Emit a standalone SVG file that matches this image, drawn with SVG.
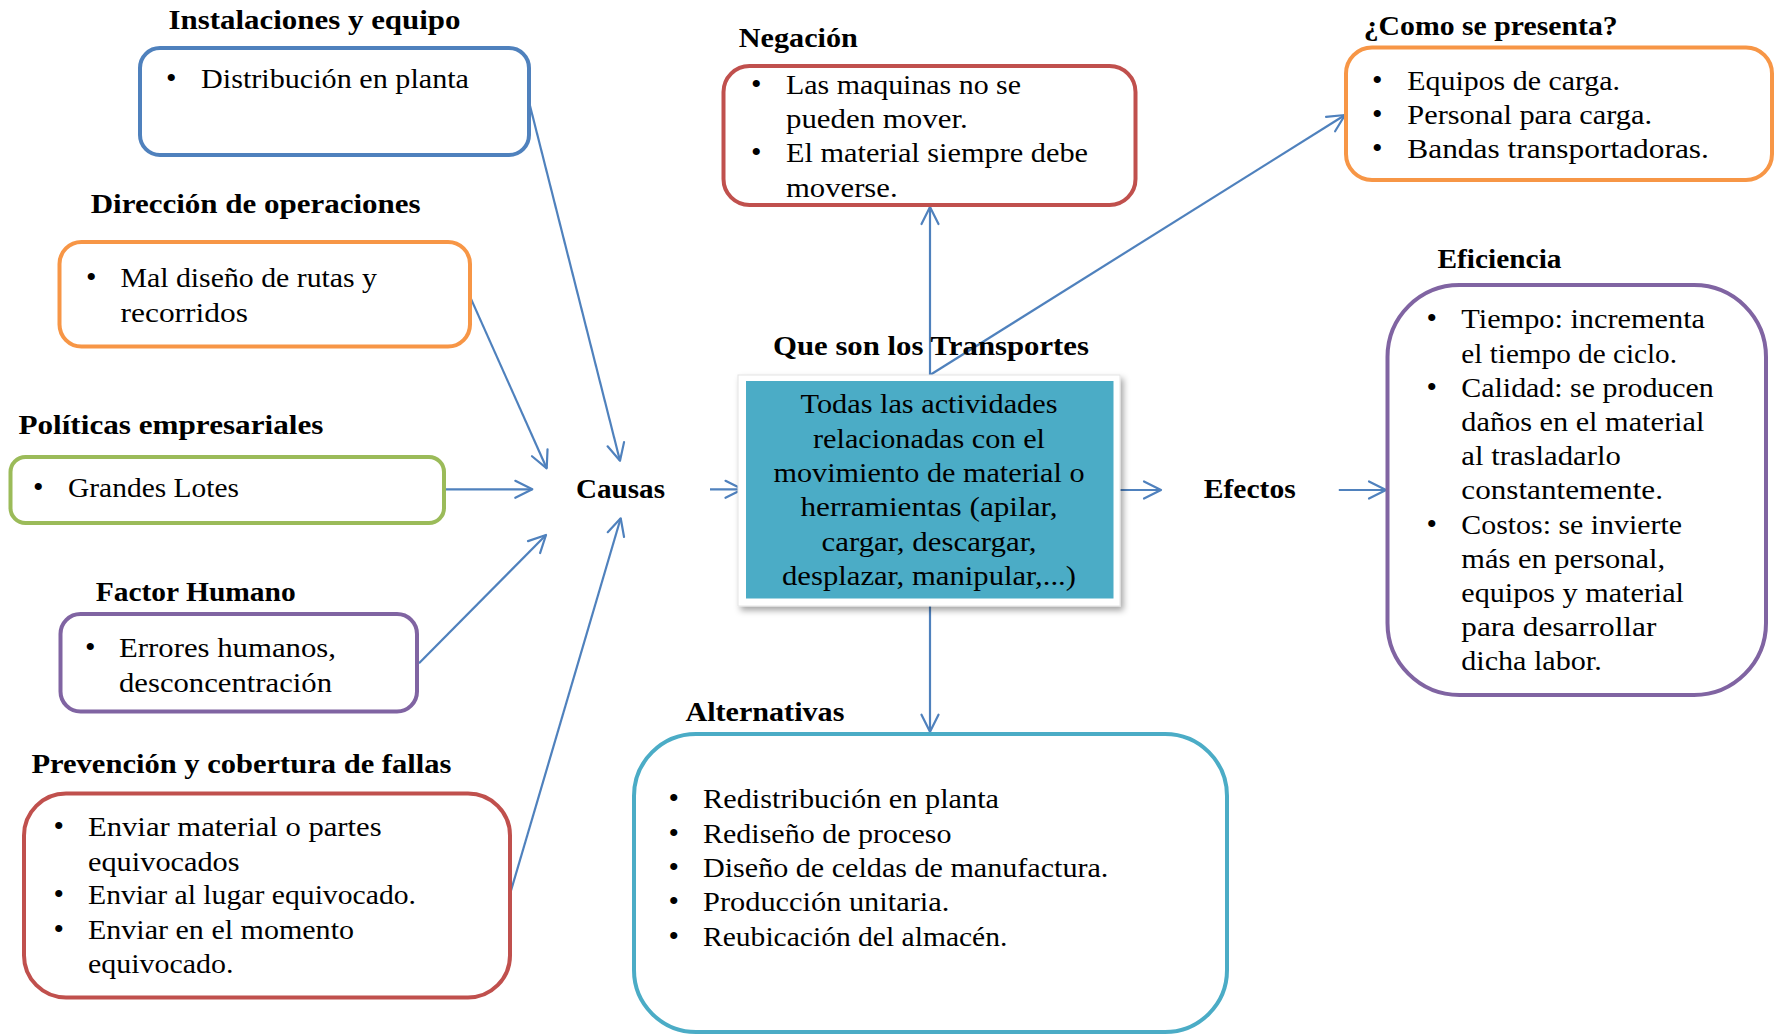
<svg xmlns="http://www.w3.org/2000/svg" width="1775" height="1034" viewBox="0 0 1775 1034">
<style>
.bg{fill:#ffffff}
.box{fill:#ffffff;stroke-width:4}
.title{font-family:"Liberation Serif","Times New Roman",serif;font-size:27px;font-weight:bold;fill:#000}
.txt{font-family:"Liberation Serif","Times New Roman",serif;font-size:28px;fill:#000}
.blt{font-family:"Liberation Serif","Times New Roman",serif;font-size:30px;fill:#000}
.ctr{font-family:"Liberation Serif","Times New Roman",serif;font-size:28px;fill:#000}
.con{fill:none;stroke:#4F81BD;stroke-width:2.2}
.blue{stroke:#4F81BD}.orange{stroke:#F79646}.green{stroke:#9BBB59}.purple{stroke:#8064A2}.red{stroke:#C0504D}.aqua{stroke:#4BACC6}
</style>
<defs>
<marker id="ah" viewBox="-20 -12 24 24" refX="0" refY="0" markerWidth="24" markerHeight="24" markerUnits="userSpaceOnUse" orient="auto">
<path d="M-17,-8.5 L0,0 L-17,8.5" fill="none" stroke="#4F81BD" stroke-width="2.2" stroke-linecap="round" stroke-linejoin="round"/>
</marker>
<filter id="sh" x="-10%" y="-10%" width="125%" height="125%">
<feDropShadow dx="3" dy="4" stdDeviation="3" flood-color="#000000" flood-opacity="0.35"/>
</filter>
</defs>
<rect class="bg" x="0" y="0" width="1775" height="1034"/>

<g id="connectors">
<path class="con" marker-end="url(#ah)" d="M529.3,103 L620,460.7"/>
<path class="con" marker-end="url(#ah)" d="M470,296.6 L546.7,468.3"/>
<path class="con" marker-end="url(#ah)" d="M444.5,489.3 L532.3,489.3"/>
<path class="con" marker-end="url(#ah)" d="M419,663.3 L546,535"/>
<path class="con" marker-end="url(#ah)" d="M510,894 L620.7,518.3"/>
<path class="con" marker-end="url(#ah)" d="M710,489.3 L742.5,489.3"/>
<path class="con" marker-end="url(#ah)" d="M1117.4,490 L1161,490"/>
<path class="con" marker-end="url(#ah)" d="M1338.8,490 L1386,490"/>
<path class="con" marker-end="url(#ah)" d="M930,375 L930,207"/>
<path class="con" marker-end="url(#ah)" d="M930,375 L1345,115"/>
<path class="con" marker-end="url(#ah)" d="M930,606 L930,731.7"/>
</g>

<g id="instalaciones">
<text class="title" x="168.5" y="29.3" textLength="292" lengthAdjust="spacingAndGlyphs">Instalaciones y equipo</text>
<rect class="box blue" x="140" y="48" width="389" height="107" rx="20"/>
<text class="blt" x="166" y="88">•</text>
<text class="txt" x="201" y="88" textLength="268" lengthAdjust="spacingAndGlyphs">Distribución en planta</text>
</g>

<g id="direccion">
<text class="title" x="90.7" y="213.3" textLength="330" lengthAdjust="spacingAndGlyphs">Dirección de operaciones</text>
<rect class="box orange" x="59.5" y="242" width="410.5" height="104.5" rx="22"/>
<text class="blt" x="86" y="287">•</text>
<text class="txt" x="120.5" y="287" textLength="256.5" lengthAdjust="spacingAndGlyphs">Mal diseño de rutas y</text>
<text class="txt" x="120.5" y="322" textLength="127.5" lengthAdjust="spacingAndGlyphs">recorridos</text>
</g>

<g id="politicas">
<text class="title" x="18.4" y="434" textLength="305" lengthAdjust="spacingAndGlyphs">Políticas empresariales</text>
<rect class="box green" x="10.5" y="457" width="433.5" height="66" rx="15"/>
<text class="blt" x="33" y="496.7">•</text>
<text class="txt" x="68" y="496.7" textLength="171" lengthAdjust="spacingAndGlyphs">Grandes Lotes</text>
</g>

<g id="factor-humano">
<text class="title" x="95.7" y="601" textLength="200" lengthAdjust="spacingAndGlyphs">Factor Humano</text>
<rect class="box purple" x="60.5" y="614" width="356.5" height="97.5" rx="20"/>
<text class="blt" x="85" y="656.7">•</text>
<text class="txt" x="119" y="656.7" textLength="217" lengthAdjust="spacingAndGlyphs">Errores humanos,</text>
<text class="txt" x="119" y="691.7" textLength="213" lengthAdjust="spacingAndGlyphs">desconcentración</text>
</g>

<g id="prevencion">
<text class="title" x="31.4" y="772.7" textLength="420" lengthAdjust="spacingAndGlyphs">Prevención y cobertura de fallas</text>
<rect class="box red" x="24" y="793.5" width="486" height="204" rx="42"/>
<text class="blt" x="53.4" y="836">•</text>
<text class="txt" x="88" y="836" textLength="293.6" lengthAdjust="spacingAndGlyphs">Enviar material o partes</text>
<text class="txt" x="88" y="870.7" textLength="151.6" lengthAdjust="spacingAndGlyphs">equivocados</text>
<text class="blt" x="53.4" y="904">•</text>
<text class="txt" x="88" y="904" textLength="328" lengthAdjust="spacingAndGlyphs">Enviar al lugar equivocado.</text>
<text class="blt" x="53.4" y="939">•</text>
<text class="txt" x="88" y="939" textLength="266" lengthAdjust="spacingAndGlyphs">Enviar en el momento</text>
<text class="txt" x="88" y="972.7" textLength="145.4" lengthAdjust="spacingAndGlyphs">equivocado.</text>
</g>

<g id="negacion">
<text class="title" x="738.8" y="46.7" textLength="119" lengthAdjust="spacingAndGlyphs">Negación</text>
<rect class="box red" x="723.5" y="66" width="412" height="139" rx="26"/>
<text class="blt" x="751" y="94.3">•</text>
<text class="txt" x="786" y="94.3" textLength="235" lengthAdjust="spacingAndGlyphs">Las maquinas no se</text>
<text class="txt" x="786" y="128.3" textLength="181.7" lengthAdjust="spacingAndGlyphs">pueden mover.</text>
<text class="blt" x="751" y="162.3">•</text>
<text class="txt" x="786" y="162.3" textLength="302" lengthAdjust="spacingAndGlyphs">El material siempre debe</text>
<text class="txt" x="786" y="196.7" textLength="111.6" lengthAdjust="spacingAndGlyphs">moverse.</text>
</g>

<g id="como-se-presenta">
<text class="title" x="1363.7" y="35" textLength="254" lengthAdjust="spacingAndGlyphs">¿Como se presenta?</text>
<rect class="box orange" x="1346" y="47.5" width="426" height="132.5" rx="26"/>
<text class="blt" x="1372" y="90">•</text>
<text class="txt" x="1407.3" y="90" textLength="212.7" lengthAdjust="spacingAndGlyphs">Equipos de carga.</text>
<text class="blt" x="1372" y="124.4">•</text>
<text class="txt" x="1407.3" y="124.4" textLength="244.7" lengthAdjust="spacingAndGlyphs">Personal para carga.</text>
<text class="blt" x="1372" y="158.2">•</text>
<text class="txt" x="1407.3" y="158.2" textLength="301.6" lengthAdjust="spacingAndGlyphs">Bandas transportadoras.</text>
</g>

<g id="eficiencia">
<text class="title" x="1437.5" y="267.7" textLength="124" lengthAdjust="spacingAndGlyphs">Eficiencia</text>
<rect class="box purple" x="1387.5" y="285" width="378.5" height="410" rx="72"/>
<text class="blt" x="1426.6" y="328.3">•</text>
<text class="txt" x="1461.3" y="328.3" textLength="243.7" lengthAdjust="spacingAndGlyphs">Tiempo: incrementa</text>
<text class="txt" x="1461.3" y="362.5" textLength="215.7" lengthAdjust="spacingAndGlyphs">el tiempo de ciclo.</text>
<text class="blt" x="1426.6" y="396.7">•</text>
<text class="txt" x="1461.3" y="396.7" textLength="252.5" lengthAdjust="spacingAndGlyphs">Calidad: se producen</text>
<text class="txt" x="1461.3" y="430.9" textLength="243" lengthAdjust="spacingAndGlyphs">daños en el material</text>
<text class="txt" x="1461.3" y="465.1" textLength="159.5" lengthAdjust="spacingAndGlyphs">al trasladarlo</text>
<text class="txt" x="1461.3" y="499.3" textLength="201.7" lengthAdjust="spacingAndGlyphs">constantemente.</text>
<text class="blt" x="1426.6" y="533.5">•</text>
<text class="txt" x="1461.3" y="533.5" textLength="220.7" lengthAdjust="spacingAndGlyphs">Costos: se invierte</text>
<text class="txt" x="1461.3" y="567.7" textLength="203.7" lengthAdjust="spacingAndGlyphs">más en personal,</text>
<text class="txt" x="1461.3" y="601.9" textLength="222.7" lengthAdjust="spacingAndGlyphs">equipos y material</text>
<text class="txt" x="1461.3" y="636.1" textLength="195" lengthAdjust="spacingAndGlyphs">para desarrollar</text>
<text class="txt" x="1461.3" y="670.3" textLength="140.4" lengthAdjust="spacingAndGlyphs">dicha labor.</text>
</g>

<g id="transportes">
<text class="title" x="773" y="355" textLength="316" lengthAdjust="spacingAndGlyphs">Que son los Transportes</text>
<rect x="738" y="375" width="382" height="231" fill="#ffffff" stroke="#e4e4e4" stroke-width="1" filter="url(#sh)"/>
<rect x="746" y="381" width="367.5" height="217.5" fill="#4BACC6"/>
<text class="ctr" x="800.5" y="413.3" textLength="257" lengthAdjust="spacingAndGlyphs">Todas las actividades</text>
<text class="ctr" x="813" y="447.6" textLength="232" lengthAdjust="spacingAndGlyphs">relacionadas con el</text>
<text class="ctr" x="773.5" y="481.9" textLength="311" lengthAdjust="spacingAndGlyphs">movimiento de material o</text>
<text class="ctr" x="800.5" y="516.2" textLength="257" lengthAdjust="spacingAndGlyphs">herramientas (apilar,</text>
<text class="ctr" x="821.5" y="550.5" textLength="215" lengthAdjust="spacingAndGlyphs">cargar, descargar,</text>
<text class="ctr" x="782" y="584.8" textLength="294" lengthAdjust="spacingAndGlyphs">desplazar, manipular,...)</text>
</g>

<g id="causas">
<text class="title" x="576" y="498.3" textLength="89" lengthAdjust="spacingAndGlyphs">Causas</text>
</g>

<g id="efectos">
<text class="title" x="1203.7" y="498" textLength="92" lengthAdjust="spacingAndGlyphs">Efectos</text>
</g>

<g id="alternativas">
<text class="title" x="685.4" y="720.7" textLength="159" lengthAdjust="spacingAndGlyphs">Alternativas</text>
<rect class="box aqua" x="634" y="734" width="593" height="298" rx="62"/>
<text class="blt" x="668.4" y="808.3">•</text>
<text class="txt" x="703" y="808.3" textLength="296" lengthAdjust="spacingAndGlyphs">Redistribución en planta</text>
<text class="blt" x="668.4" y="842.6">•</text>
<text class="txt" x="703" y="842.6" textLength="248.4" lengthAdjust="spacingAndGlyphs">Rediseño de proceso</text>
<text class="blt" x="668.4" y="876.9">•</text>
<text class="txt" x="703" y="876.9" textLength="405.4" lengthAdjust="spacingAndGlyphs">Diseño de celdas de manufactura.</text>
<text class="blt" x="668.4" y="911.2">•</text>
<text class="txt" x="703" y="911.2" textLength="246.3" lengthAdjust="spacingAndGlyphs">Producción unitaria.</text>
<text class="blt" x="668.4" y="945.5">•</text>
<text class="txt" x="703" y="945.5" textLength="304.4" lengthAdjust="spacingAndGlyphs">Reubicación del almacén.</text>
</g>
</svg>
